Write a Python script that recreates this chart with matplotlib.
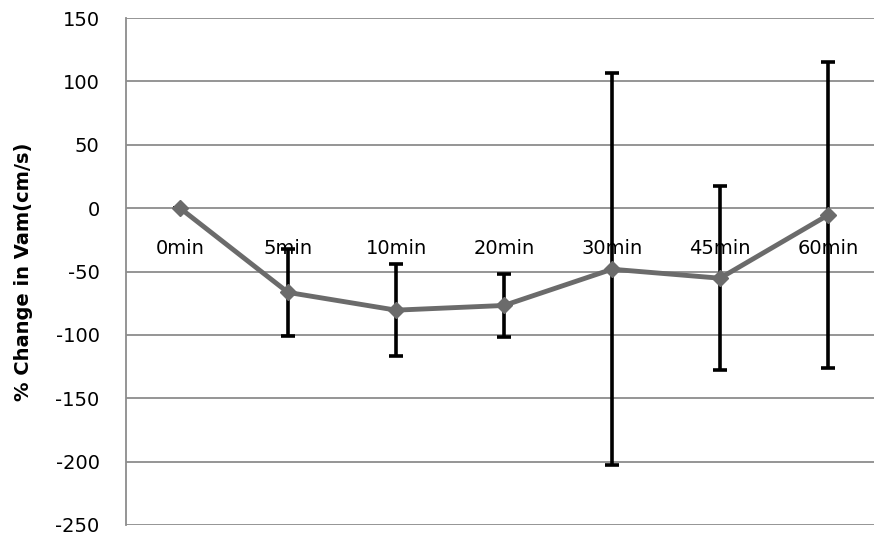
import numpy as np
import matplotlib
matplotlib.use('Agg')
import matplotlib.pyplot as plt

times = ['0min', '5min', '10min', '20min', '30min', '45min', '60min']
change = [0, -66.5, -80.5, -76.8, -48.2, -55.3, -5.5]   # % change in Vam
err = [0, 34.5, 36.3, 24.6, 154.8, 72.7, 120.8]          # error bar half-length
yticks = [-250, -200, -150, -100, -50, 0, 50, 100, 150]

plt.rcParams['font.family'] = ['DejaVu Sans']

fig = plt.figure(figsize=(8.74, 5.35), dpi=100)
ax = fig.add_axes([126/874, 10/535, 756/874, 507/535])

x = np.arange(len(times))
ax.errorbar(x, change, yerr=err, fmt='none', ecolor='black', elinewidth=2.6,
            capsize=5, capthick=2.6, zorder=3)
ax.plot(x, change, color='#6b6b6b', lw=3.5, marker='D', ms=8, zorder=4)

ax.set_xlim(-0.5, 6.5)
ax.set_ylim(-250, 150)
ax.set_yticks(yticks)
ax.set_yticklabels([str(v) for v in yticks], fontsize=14)
ax.yaxis.grid(True, color='#8c8c8c', lw=1.3)
ax.set_axisbelow(True)

# category axis crosses at zero
ax.spines['bottom'].set_position(('data', 0))
ax.spines['bottom'].set_visible(False)
ax.spines['top'].set_visible(False)
ax.spines['right'].set_visible(False)
ax.spines['left'].set_color('#8c8c8c')
ax.spines['left'].set_linewidth(1.3)
ax.set_xticks(x)
ax.set_xticklabels(times, fontsize=14)
ax.tick_params(axis='x', length=0, pad=22)
ax.tick_params(axis='y', length=0, pad=19)

ax.set_ylabel('% Change in Vam(cm/s)', fontsize=14, fontweight='bold', labelpad=16)

fig.savefig('out.png', dpi=100)
